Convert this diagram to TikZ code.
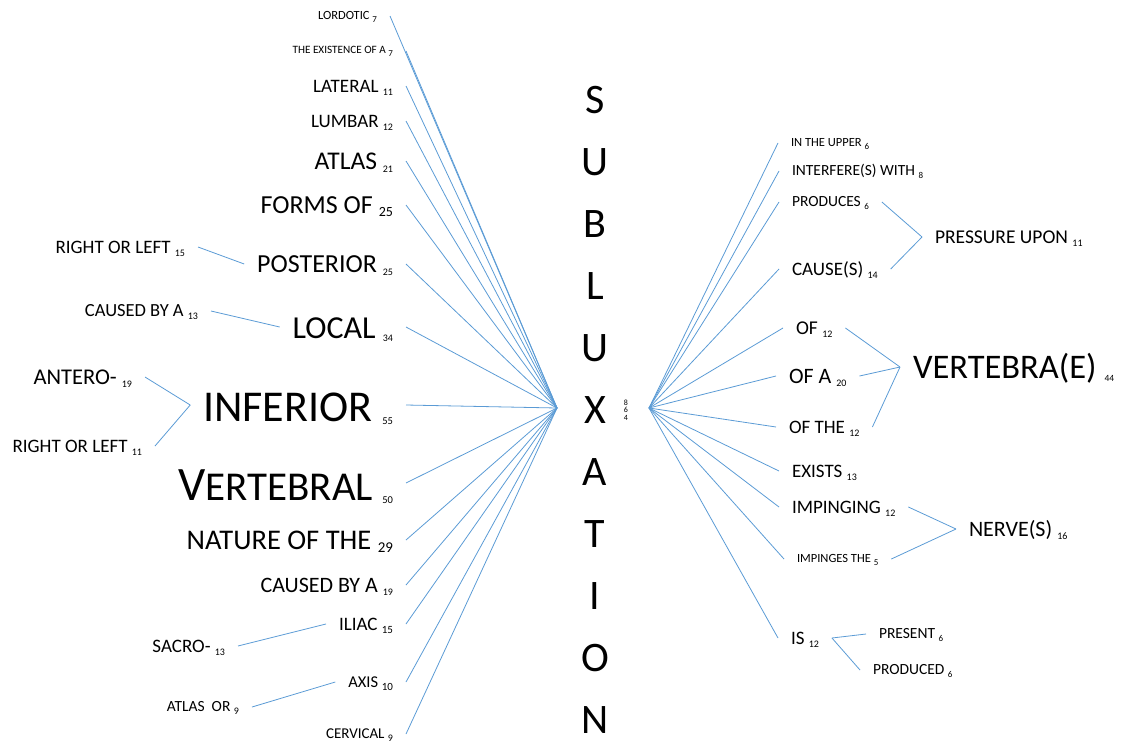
\documentclass[tikz,border=0pt]{standalone}
\usepackage{fontspec}
\setmainfont{Carlito}
\usepackage{xcolor}
\usepackage{tikz}
\usetikzlibrary{positioning}

\definecolor{branchblue}{RGB}{91,155,213}

% word + small count beside it
\newcommand{\wordlbl}[4]{{\fontsize{#1}{#1}\selectfont\rule{0pt}{0.8em}#2\ }{\fontsize{#3}{#3}\selectfont\raisebox{-3pt}{#4}}}

\begin{document}
\begin{tikzpicture}[
    x=1pt, y=-1pt,
    wordnode/.style={inner xsep=13pt, inner ysep=0pt, outer sep=0pt, text=black},
    leftword/.style={wordnode, anchor=east},
    rightword/.style={wordnode, anchor=west},
    branch/.style={draw=branchblue, line width=0.8pt}
  ]
    \useasboundingbox (0,0) rectangle (1137,742);

    % centre word and its hubs
    \node[inner sep=0pt, align=center, font=\fontsize{42}{62}\selectfont] (subluxation) at (595,409.5) {S\\U\\B\\L\\U\\X\\A\\T\\I\\O\\N};
    \node[inner sep=0pt, align=center, font=\fontsize{8}{7.5}\selectfont] (total) at (626,410) {8\\6\\4};
    \coordinate (lhub) at (557,408);
    \coordinate (rhub) at (649,408);

    % words before
    \node[leftword] (lordotic) at (390,16) {\wordlbl{12.5}{LORDOTIC}{9}{7}};
    \node[leftword] (existence) at (406,51) {\wordlbl{11.2}{THE EXISTENCE OF A}{9}{7}};
    \node[leftword] (lateral) at (406,86) {\wordlbl{19}{LATERAL}{10}{11}};
    \node[leftword] (lumbar) at (406,121) {\wordlbl{19}{LUMBAR}{10}{12}};
    \node[leftword] (atlas) at (406,161) {\wordlbl{25.5}{ATLAS}{10}{21}};
    \node[leftword] (formsof) at (406,205) {\wordlbl{26}{FORMS OF}{14}{25}};
    \node[leftword] (posterior) at (406,264) {\wordlbl{26}{POSTERIOR}{10}{25}};
    \node[leftword] (local) at (406,327) {\wordlbl{32}{LOCAL}{10}{34}};
    \node[leftword] (inferior) at (406,405) {\wordlbl{44}{INFERIOR}{10.5}{55}};
    \node[leftword] (vertebral) at (406,483) {{\fontsize{48}{48}\selectfont\rule{0pt}{0.8em}V}{\fontsize{41}{41}\selectfont ERTEBRAL\ }{\fontsize{10.5}{10.5}\selectfont\raisebox{-3pt}{50}}};
    \node[leftword] (natureofthe) at (406,540) {\wordlbl{28.5}{NATURE OF THE}{15}{29}};
    \node[leftword] (causedbya) at (406,585) {\wordlbl{22}{CAUSED BY A}{10}{19}};
    \node[leftword] (iliac) at (406,624) {\wordlbl{19}{ILIAC}{11}{15}};
    \node[leftword] (axis) at (406,682) {\wordlbl{16.5}{AXIS}{11}{10}};
    \node[leftword] (cervical) at (406,734) {\wordlbl{15}{CERVICAL}{10}{9}};

    \node[leftword] (rolposterior) at (198,247) {\wordlbl{19}{RIGHT OR LEFT}{10}{15}};
    \node[leftword] (causedlocal) at (211,311) {\wordlbl{18.5}{CAUSED BY A}{10}{13}};
    \node[leftword] (antero) at (145,377) {\wordlbl{22.5}{ANTERO-}{10}{19}};
    \node[leftword] (rolinferior) at (155,446) {\wordlbl{19}{RIGHT OR LEFT}{10}{11}};
    \node[leftword] (sacro) at (238,646) {\wordlbl{19}{SACRO-}{10}{13}};
    \node[leftword] (atlasor) at (252,707) {\wordlbl{15.5}{ATLAS\ \ OR}{10}{9}};

    % words after
    \node[rightword] (intheupper) at (778,143) {\wordlbl{12.5}{IN THE UPPER}{9}{6}};
    \node[rightword] (interferes) at (779,171) {\wordlbl{15.5}{INTERFERE(S) WITH}{9}{8}};
    \node[rightword] (produces) at (779,202) {\wordlbl{15.5}{PRODUCES}{9}{6}};
    \node[rightword] (causes) at (779,269) {\wordlbl{19}{CAUSE(S)}{10}{14}};
    \node[rightword] (of) at (783,328) {\wordlbl{19.5}{OF}{10}{12}};
    \node[rightword] (ofa) at (776,376) {\wordlbl{22}{OF A}{10}{20}};
    \node[rightword] (ofthe) at (776,427) {\wordlbl{19}{OF THE}{10}{12}};
    \node[rightword] (exists) at (779,471) {\wordlbl{19}{EXISTS}{10}{13}};
    \node[rightword] (impinging) at (779,507) {\wordlbl{19}{IMPINGING}{10}{12}};
    \node[rightword] (impingesthe) at (784,559) {\wordlbl{12.5}{IMPINGES THE}{9}{5}};
    \node[rightword] (is) at (778,638) {\wordlbl{19}{IS}{10}{12}};

    \node[rightword] (pressureupon) at (922,237) {\wordlbl{19.5}{PRESSURE UPON}{10}{11}};
    \node[rightword] (vertebrae) at (900,367) {\wordlbl{34.5}{VERTEBRA(E)}{9.5}{44}};
    \node[rightword] (nerves) at (956,529) {\wordlbl{22}{NERVE(S)}{10}{16}};
    \node[rightword] (present) at (866,634) {\wordlbl{15.5}{PRESENT}{9}{6}};
    \node[rightword] (produced) at (860,670) {\wordlbl{15.5}{PRODUCED}{9}{6}};

    % branches into the left hub
    \draw[branch] (lordotic.east) -- (lhub);
    \draw[branch] (existence.east) -- (lhub);
    \draw[branch] (lateral.east) -- (lhub);
    \draw[branch] (lumbar.east) -- (lhub);
    \draw[branch] (atlas.east) -- (lhub);
    \draw[branch] (formsof.east) -- (lhub);
    \draw[branch] (posterior.east) -- (lhub);
    \draw[branch] (local.east) -- (lhub);
    \draw[branch] (inferior.east) -- (lhub);
    \draw[branch] (vertebral.east) -- (lhub);
    \draw[branch] (natureofthe.east) -- (lhub);
    \draw[branch] (causedbya.east) -- (lhub);
    \draw[branch] (iliac.east) -- (lhub);
    \draw[branch] (axis.east) -- (lhub);
    \draw[branch] (cervical.east) -- (lhub);

    \draw[branch] (rolposterior.east) -- (posterior.west);
    \draw[branch] (causedlocal.east) -- (local.west);
    \draw[branch] (antero.east) -- (inferior.west);
    \draw[branch] (rolinferior.east) -- (inferior.west);
    \draw[branch] (sacro.east) -- (iliac.west);
    \draw[branch] (atlasor.east) -- (axis.west);

    % branches out of the right hub
    \draw[branch] (rhub) -- (intheupper.west);
    \draw[branch] (rhub) -- (interferes.west);
    \draw[branch] (rhub) -- (produces.west);
    \draw[branch] (rhub) -- (causes.west);
    \draw[branch] (rhub) -- (of.west);
    \draw[branch] (rhub) -- (ofa.west);
    \draw[branch] (rhub) -- (ofthe.west);
    \draw[branch] (rhub) -- (exists.west);
    \draw[branch] (rhub) -- (impinging.west);
    \draw[branch] (rhub) -- (impingesthe.west);
    \draw[branch] (rhub) -- (is.west);

    \draw[branch] (produces.east) -- (pressureupon.west);
    \draw[branch] (causes.east) -- (pressureupon.west);
    \draw[branch] (of.east) -- (vertebrae.west);
    \draw[branch] (ofa.east) -- (vertebrae.west);
    \draw[branch] (ofthe.east) -- (vertebrae.west);
    \draw[branch] (impinging.east) -- (nerves.west);
    \draw[branch] (impingesthe.east) -- (nerves.west);
    \draw[branch] (is.east) -- (present.west);
    \draw[branch] (is.east) -- (produced.west);
  \end{tikzpicture}
\end{document}
